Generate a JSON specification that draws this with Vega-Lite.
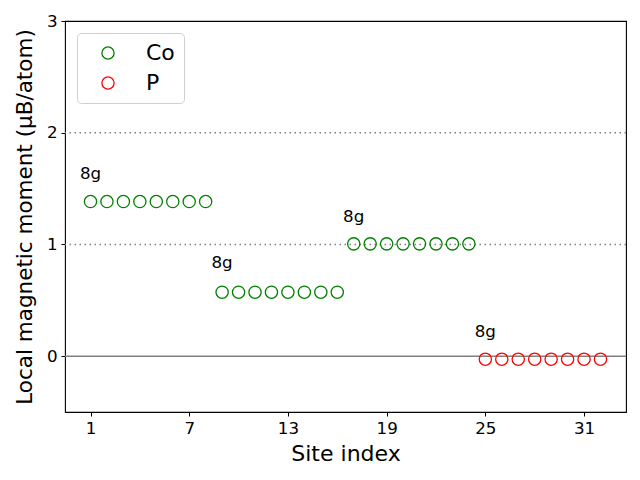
{
  "$schema": "https://vega.github.io/schema/vega-lite/v6.json",
  "width": 561,
  "height": 391,
  "autosize": {"type": "none"},
  "padding": {"left": 65, "top": 21, "right": 14, "bottom": 68},
  "background": "white",
  "config": {
    "font": "DejaVu Sans",
    "view": {"stroke": "black", "strokeWidth": 1.1},
    "axis": {
      "grid": false,
      "domain": false,
      "tickColor": "black",
      "tickSize": 4,
      "tickWidth": 1,
      "labelColor": "black",
      "labelFontSize": 16.7,
      "labelFont": "DejaVu Sans",
      "titleColor": "black",
      "titleFontSize": 22,
      "titleFontWeight": "normal",
      "titleFont": "DejaVu Sans",
      "labelPadding": 4
    }
  },
  "datasets": {
    "sites": [
      {"site": 1, "m": 1.384, "el": "Co"}, {"site": 2, "m": 1.384, "el": "Co"},
      {"site": 3, "m": 1.384, "el": "Co"}, {"site": 4, "m": 1.384, "el": "Co"},
      {"site": 5, "m": 1.384, "el": "Co"}, {"site": 6, "m": 1.384, "el": "Co"},
      {"site": 7, "m": 1.384, "el": "Co"}, {"site": 8, "m": 1.384, "el": "Co"},
      {"site": 9, "m": 0.572, "el": "Co"}, {"site": 10, "m": 0.572, "el": "Co"},
      {"site": 11, "m": 0.572, "el": "Co"}, {"site": 12, "m": 0.572, "el": "Co"},
      {"site": 13, "m": 0.572, "el": "Co"}, {"site": 14, "m": 0.572, "el": "Co"},
      {"site": 15, "m": 0.572, "el": "Co"}, {"site": 16, "m": 0.572, "el": "Co"},
      {"site": 17, "m": 1.005, "el": "Co"}, {"site": 18, "m": 1.005, "el": "Co"},
      {"site": 19, "m": 1.005, "el": "Co"}, {"site": 20, "m": 1.005, "el": "Co"},
      {"site": 21, "m": 1.005, "el": "Co"}, {"site": 22, "m": 1.005, "el": "Co"},
      {"site": 23, "m": 1.005, "el": "Co"}, {"site": 24, "m": 1.005, "el": "Co"},
      {"site": 25, "m": -0.027, "el": "P"}, {"site": 26, "m": -0.027, "el": "P"},
      {"site": 27, "m": -0.027, "el": "P"}, {"site": 28, "m": -0.027, "el": "P"},
      {"site": 29, "m": -0.027, "el": "P"}, {"site": 30, "m": -0.027, "el": "P"},
      {"site": 31, "m": -0.027, "el": "P"}, {"site": 32, "m": -0.027, "el": "P"}
    ],
    "labels": [
      {"site": 1, "m": 1.63, "label": "8g"},
      {"site": 9, "m": 0.83, "label": "8g"},
      {"site": 17, "m": 1.25, "label": "8g"},
      {"site": 25, "m": 0.22, "label": "8g"}
    ],
    "dotted": [{"y": 1}, {"y": 2}],
    "zero": [{"y": 0}]
  },
  "layer": [
    {
      "data": {"name": "dotted"},
      "mark": {"type": "rule", "color": "#808080", "strokeDash": [1.5, 3.5], "strokeWidth": 1.5},
      "encoding": {"y": {"field": "y", "type": "quantitative"}}
    },
    {
      "data": {"name": "zero"},
      "mark": {"type": "rule", "color": "#808080", "strokeWidth": 1.5},
      "encoding": {"y": {"field": "y", "type": "quantitative"}}
    },
    {
      "data": {"name": "sites"},
      "mark": {"type": "point", "shape": "circle", "filled": false, "size": 150, "strokeWidth": 1.3, "opacity": 1},
      "encoding": {
        "x": {
          "field": "site", "type": "quantitative",
          "scale": {"domain": [-0.55, 33.55], "nice": false, "zero": false},
          "axis": {"values": [1, 7, 13, 19, 25, 31], "format": "d", "title": "Site index", "titlePadding": 7}
        },
        "y": {
          "field": "m", "type": "quantitative",
          "scale": {"domain": [-0.5, 3], "nice": false},
          "axis": {"values": [0, 1, 2, 3], "format": "d", "title": "Local magnetic moment (μB/atom)", "titlePadding": 10, "titleFontSize": 21.5}
        },
        "color": {
          "field": "el", "type": "nominal",
          "scale": {"domain": ["Co", "P"], "range": ["#008000", "#ff0000"]},
          "legend": {
            "title": null,
            "orient": "none",
            "legendX": 12,
            "legendY": 12,
            "labelFontSize": 22,
            "labelColor": "black",
            "labelFont": "DejaVu Sans",
            "symbolType": "circle",
            "symbolSize": 150,
            "symbolStrokeWidth": 1.3,
            "symbolFillColor": "transparent",
            "symbolOffset": 11,
            "labelOffset": 27,
            "rowPadding": 8,
            "padding": 9,
            "fillColor": "white",
            "strokeColor": "#d0d0d0",
            "cornerRadius": 4
          }
        }
      }
    },
    {
      "data": {"name": "labels"},
      "mark": {"type": "text", "fontSize": 16.7, "align": "center", "baseline": "middle", "color": "black"},
      "encoding": {
        "x": {"field": "site", "type": "quantitative"},
        "y": {"field": "m", "type": "quantitative"},
        "text": {"field": "label"}
      }
    }
  ]
}
